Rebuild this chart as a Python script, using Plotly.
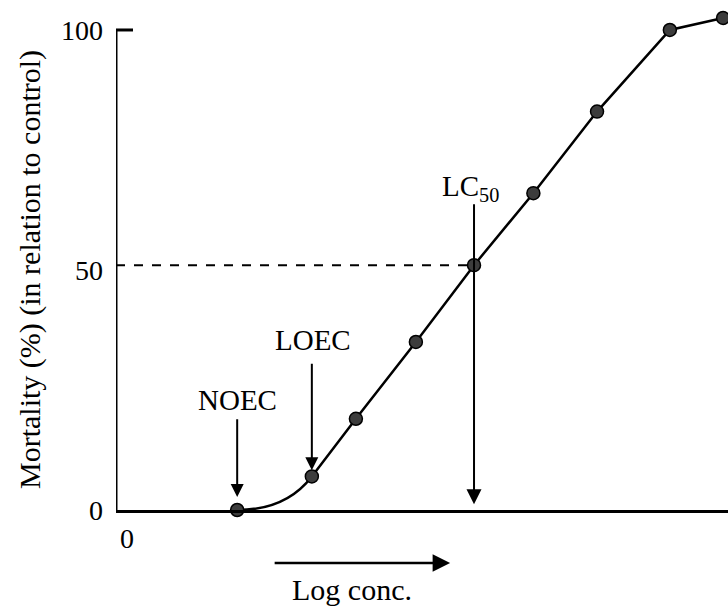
import plotly.graph_objects as go

# Data (arbitrary log-concentration units)
log_conc = [1.98, 3.20, 3.92, 4.90, 5.85, 6.82, 7.86, 9.05, 9.92]
mortality = [0, 7, 19, 35, 51, 66, 83, 100, 102.5]
y_ticks = [0, 50, 100]
y_tick_text = ["0", "50", "100"]
x_ticks = [0]
x_tick_text = ["0"]
lc50_x = 5.85
lc50_y = 51
noec_x = 1.98
loec_x = 3.20

FONT = "Liberation Serif"
fig = go.Figure()

# straight part of the curve from LOEC upward
fig.add_trace(go.Scatter(
    x=log_conc[1:], y=mortality[1:], mode="lines",
    line=dict(color="black", width=2.5),
    cliponaxis=False, showlegend=False, hoverinfo="skip"))
fig.add_trace(go.Scatter(
    x=log_conc, y=mortality, mode="markers",
    marker=dict(size=13, color="#3c3c3c", line=dict(color="black", width=1.5)),
    cliponaxis=False, showlegend=False, hoverinfo="skip"))

# curved toe from NOEC to LOEC: quadratic bezier, tangent to the axis at NOEC
# and to the straight segment at LOEC (control point derived from the data)
x0, y0 = log_conc[0], mortality[0]
x1, y1 = log_conc[1], mortality[1]
x2, y2 = log_conc[2], mortality[2]
slope = (y2 - y1) / (x2 - x1)
cx = x1 - (y1 - y0) / slope
toe_path = f"M {x0},{y0} Q {cx},{y0} {x1},{y1}"

shapes = [
    dict(type="path", xref="x", yref="y", path=toe_path,
         line=dict(color="black", width=2.5), layer="below"),
    dict(type="line", xref="x", yref="y", x0=0, x1=0, y0=0, y1=y_ticks[-1],
         line=dict(color="black", width=3)),
    # short tick at the top of the y axis
    dict(type="line", xref="x", yref="y", xsizemode="pixel", xanchor=0,
         x0=0, x1=17, y0=y_ticks[-1], y1=y_ticks[-1],
         line=dict(color="black", width=3)),
    dict(type="line", xref="x", yref="y", x0=0, x1=lc50_x, y0=lc50_y, y1=lc50_y,
         line=dict(color="black", width=2, dash="dash")),
]

ann = []
def arrow(x, y_tip, y_tail, size=1.3):
    ann.append(dict(x=x, y=y_tip, ax=x, ay=y_tail, xref="x", yref="y",
                    axref="x", ayref="y", text="", showarrow=True,
                    arrowhead=2, arrowsize=size, arrowwidth=2, arrowcolor="black"))

arrow(noec_x, 2.7, 19.2)
arrow(loec_x, 8.3, 30.8)
arrow(lc50_x, 1.2, 64, size=1.5)

LBL = dict(family=FONT, size=29, color="black")
BIG = dict(family=FONT, size=30, color="black")
ann.append(dict(x=noec_x, y=22.9, xref="x", yref="y", text="NOEC", showarrow=False, font=LBL))
ann.append(dict(x=loec_x + 0.02, y=35.4, xref="x", yref="y", text="LOEC", showarrow=False, font=LBL))
ann.append(dict(x=lc50_x - 0.05, y=67.0, xref="x", yref="y", text="LC<sub>50</sub>",
                showarrow=False, font=LBL))

# Log conc arrow below the axis
ann.append(dict(x=5.46, y=-0.107, ax=-177, ay=0, xref="x", yref="paper",
                axref="pixel", ayref="pixel", text="", showarrow=True,
                arrowhead=2, arrowsize=1.4, arrowwidth=2.5, arrowcolor="black"))
ann.append(dict(x=3.85, y=(510 - 589) / 496, xref="x", yref="paper", text="Log conc.",
                xanchor="center", yanchor="middle", showarrow=False, font=BIG))

# y-axis title
ann.append(dict(x=-86 / 612, y=(510 - 270) / 496, xref="paper", yref="paper",
                text="Mortality (%) (in relation to control)", textangle=-90,
                xanchor="center", yanchor="middle", showarrow=False, font=BIG))

fig.update_layout(
    width=728, height=606,
    margin=dict(l=116, r=0, t=14, b=96, autoexpand=False),
    paper_bgcolor="white", plot_bgcolor="white",
    shapes=shapes, annotations=ann,
    xaxis=dict(range=[0, 10], showgrid=False, zeroline=False, showline=True,
               automargin=False,
               linecolor="black", linewidth=3, tickvals=x_ticks, ticktext=x_tick_text,
               ticks="", ticklabelshift=11, ticklabelstandoff=1,
               tickfont=dict(family=FONT, size=28, color="black")),
    yaxis=dict(range=[0, 103.33], showgrid=False, zeroline=False, showline=False,
               automargin=False,
               tickvals=y_ticks, ticktext=y_tick_text, ticks="",
               ticklabelstandoff=12,
               tickfont=dict(family=FONT, size=28, color="black")),
)

fig.write_html("out.html", post_script="document.body.style.margin='0';",
               config={"displayModeBar": False})
